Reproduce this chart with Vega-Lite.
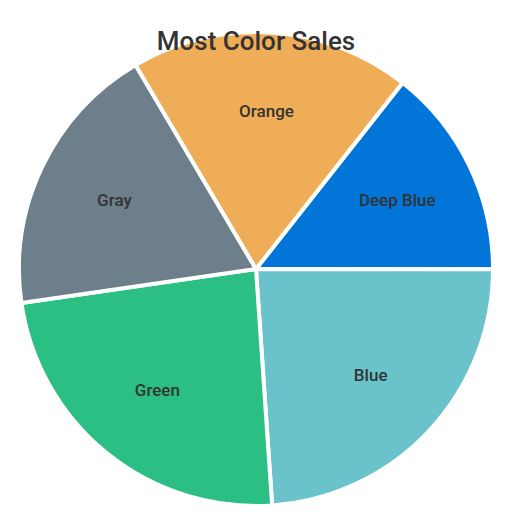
{
  "$schema": "https://vega.github.io/schema/vega-lite/v6.json",
  "width": 512,
  "height": 512,
  "autosize": {"type": "none"},
  "padding": {"left": 0, "right": 0, "top": 13, "bottom": 0},
  "background": "white",
  "title": {"text": "Most Color Sales", "font": "Roboto", "fontSize": 26, "fontWeight": 500, "color": "#333333", "anchor": "middle", "offset": -63, "baseline": "alphabetic"},
  "data": {"values": [
    {"color": "Deep Blue", "idx": 1, "sales": 14.4},
    {"color": "Blue", "idx": 2, "sales": 23.9},
    {"color": "Green", "idx": 3, "sales": 23.8},
    {"color": "Gray", "idx": 4, "sales": 18.8},
    {"color": "Orange", "idx": 5, "sales": 19.1}
  ]},
  "encoding": {
    "theta": {"field": "sales", "type": "quantitative", "stack": true, "scale": {"range": [0.667, 6.950]}},
    "order": {"field": "idx", "type": "quantitative"}
  },
  "layer": [
    {
      "mark": {"type": "arc", "radius": 237, "stroke": "white", "strokeWidth": 4},
      "encoding": {
        "color": {"field": "color", "type": "nominal", "legend": null,
          "scale": {"domain": ["Deep Blue", "Blue", "Green", "Gray", "Orange"], "range": ["#0275d8", "#6ac3ca", "#2bbf84", "#6c7f8b", "#f0ad57"]}}
      }
    },
    {
      "mark": {"type": "text", "radius": 157, "font": "Roboto", "fontSize": 17, "fontWeight": 500, "color": "#333333"},
      "encoding": {"text": {"field": "color", "type": "nominal"}}
    }
  ],
  "config": {"view": {"stroke": null}}
}
